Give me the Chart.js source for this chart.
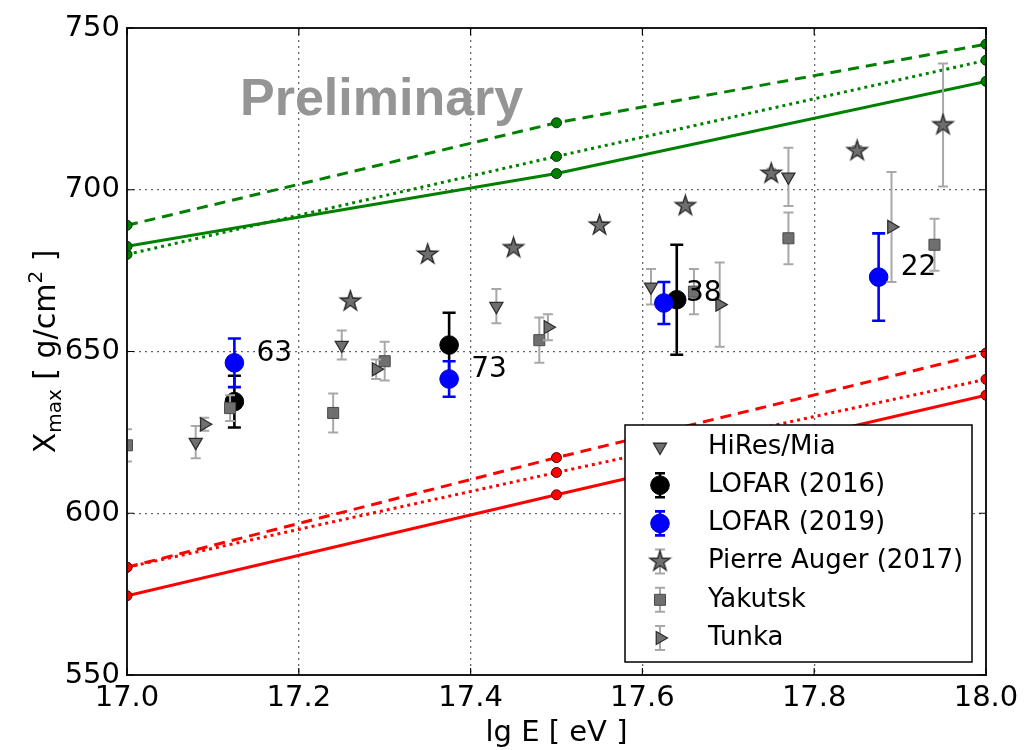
<!DOCTYPE html>
<html>
<head>
<meta charset="utf-8">
<script src="https://cdn.jsdelivr.net/npm/chart.js@4.4.1/dist/chart.umd.min.js"></script>
<style>
  html, body { margin: 0; padding: 0; background: #fff; }
  #wrap { width: 1033px; height: 750px; }
</style>
</head>
<body>
<div id="wrap"><canvas id="c" width="1033" height="750"></canvas></div>
<script>
// ---- axis ticks ----
const energyTicks = [17.0, 17.2, 17.4, 17.6, 17.8, 18.0];   // lg E [eV]
const xmaxTicks = [550, 600, 650, 700, 750];               // g/cm^2

// ---- measurements: energy, Xmax, uncertainty ----
const hiresE   = [17.08, 17.25, 17.43, 17.61, 17.77];
const hiresX   = [622, 652, 664, 670, 704];
const hiresErr = [5, 4.5, 5.3, 5.5, 9];

const lofar16E   = [17.125, 17.375, 17.64];
const lofar16X   = [634.5, 652, 666];
const lofar16Err = [8, 10, 17];

const lofar19E      = [17.125, 17.375, 17.625, 17.875];
const lofar19X      = [646.5, 641.5, 665, 673];
const lofar19Err    = [7.5, 5.5, 6.5, 13.5];
const lofar19Counts = ['63', '73', '38', '22'];

const augerE   = [17.26, 17.35, 17.45, 17.55, 17.65, 17.75, 17.85, 17.95];
const augerX   = [665.5, 680, 682, 689, 695, 705, 712, 720];
const augerErr = [1, 1, 1, 1, 1, 1.5, 1.5, 19];

const yakutskE   = [17.0, 17.12, 17.24, 17.30, 17.48, 17.66, 17.77, 17.94];
const yakutskX   = [621, 632.5, 631, 647, 653.5, 668.5, 685, 683];
const yakutskErr = [5, 4, 6, 6, 7, 7, 8, 8];

const tunkaE   = [17.09, 17.29, 17.49, 17.69, 17.89];
const tunkaX   = [627.5, 644.5, 657.5, 664.5, 688.5];
const tunkaErr = [2, 3, 4, 13, 17];

// ---- simulated expectations (proton / iron, three interaction models) ----
const modelE = [17.0, 17.5, 18.0];
const protonModelA = [682.5, 705, 733.5];
const protonModelB = [689, 720.7, 745];
const protonModelC = [680, 710.3, 740];
const ironModelA   = [574.5, 605.7, 636.5];
const ironModelB   = [583.3, 617.2, 649.5];
const ironModelC   = [583.3, 612.6, 641.4];

const pts = (xs, ys) => xs.map((x, i) => ({ x: x, y: ys[i] }));

// filled five-pointed star used as a point style
function makeStar(R, fill, stroke) {
  const s = Math.ceil(2 * R + 4);
  const cv = document.createElement('canvas');
  cv.width = s; cv.height = s;
  const c = cv.getContext('2d');
  c.translate(s / 2, s / 2);
  const r = R * 0.382;
  c.beginPath();
  for (let k = 0; k < 10; k++) {
    const rad = k % 2 === 0 ? R : r;
    const a = -Math.PI / 2 + k * Math.PI / 5;
    const px = Math.cos(a) * rad, py = Math.sin(a) * rad;
    if (k === 0) c.moveTo(px, py); else c.lineTo(px, py);
  }
  c.closePath();
  c.fillStyle = fill; c.fill();
  c.lineWidth = 1.4; c.strokeStyle = stroke; c.stroke();
  return cv;
}
const starStyle = makeStar(10.5, '#6f6f6f', '#2a2a2a');

const grayFill = '#6f6f6f', grayEdge = '#2e2e2e', grayBar = '#a8a8a8';

function modelLine(label, ys, color, edge, dash, order) {
  return {
    label: label, data: pts(modelE, ys), showLine: true,
    borderColor: color, borderWidth: 3, borderDash: dash, borderCapStyle: 'butt',
    pointRadius: 5, pointBackgroundColor: color, pointBorderColor: edge, pointBorderWidth: 1,
    fill: false, tension: 0, order: order
  };
}

const datasets = [
  modelLine('p A', protonModelA, '#008000', '#0b2a0b', [], 20),
  modelLine('p B', protonModelB, '#008000', '#0b2a0b', [11, 7], 21),
  modelLine('p C', protonModelC, '#008000', '#0b2a0b', [3, 4], 22),
  modelLine('Fe A', ironModelA, '#ff0000', '#4a0000', [], 23),
  modelLine('Fe B', ironModelB, '#ff0000', '#4a0000', [11, 7], 24),
  modelLine('Fe C', ironModelC, '#ff0000', '#4a0000', [3, 4], 25),
  { label: 'HiRes/Mia', data: pts(hiresE, hiresX), errors: hiresErr,
    errorColor: grayBar, errorWidth: 2, capHalf: 5,
    pointStyle: 'triangle', rotation: 180, pointRadius: 7.5,
    backgroundColor: grayFill, borderColor: grayEdge, borderWidth: 1.3, order: 9, legendBar: 0 },
  { label: 'LOFAR (2016)', data: pts(lofar16E, lofar16X), errors: lofar16Err,
    errorColor: '#000000', errorWidth: 2.6, capHalf: 6.5,
    pointStyle: 'circle', pointRadius: 9.3,
    backgroundColor: '#000000', borderColor: '#000000', borderWidth: 1, order: 8, legendBar: 12 },
  { label: 'LOFAR (2019)', data: pts(lofar19E, lofar19X), errors: lofar19Err,
    errorColor: '#0000ff', errorWidth: 2.6, capHalf: 6.5,
    pointStyle: 'circle', pointRadius: 9.3,
    backgroundColor: '#0000ff', borderColor: '#0000cc', borderWidth: 1, order: 7, legendBar: 12 },
  { label: 'Pierre Auger (2017)', data: pts(augerE, augerX), errors: augerErr,
    errorColor: grayBar, errorWidth: 2, capHalf: 5,
    pointStyle: starStyle, pointRadius: 10.5, order: 6, legendBar: 12 },
  { label: 'Yakutsk', data: pts(yakutskE, yakutskX), errors: yakutskErr,
    errorColor: grayBar, errorWidth: 2, capHalf: 5,
    pointStyle: 'rect', pointRadius: 7.8,
    backgroundColor: grayFill, borderColor: '#4a4a4a', borderWidth: 1, order: 5, legendBar: 12 },
  { label: 'Tunka', data: pts(tunkaE, tunkaX), errors: tunkaErr,
    errorColor: grayBar, errorWidth: 2, capHalf: 5,
    pointStyle: 'triangle', rotation: 90, pointRadius: 7.5,
    backgroundColor: grayFill, borderColor: grayEdge, borderWidth: 1.3, order: 4, legendBar: 12 }
];

const legendOrder = ['HiRes/Mia', 'LOFAR (2016)', 'LOFAR (2019)', 'Pierre Auger (2017)', 'Yakutsk', 'Tunka'];

// error bars, drawn just beneath each series' own markers
const errorBarPlugin = {
  id: 'errorBars',
  beforeDatasetDraw(chart, args) {
    const ds = chart.data.datasets[args.index];
    if (!ds.errors) return;
    const { ctx, chartArea: a, scales: { x, y } } = chart;
    ctx.save();
    ctx.beginPath(); ctx.rect(a.left, a.top, a.right - a.left, a.bottom - a.top); ctx.clip();
    ctx.strokeStyle = ds.errorColor; ctx.lineWidth = ds.errorWidth;
    ds.data.forEach((p, i) => {
      const px = x.getPixelForValue(p.x);
      const y1 = y.getPixelForValue(p.y - ds.errors[i]);
      const y2 = y.getPixelForValue(p.y + ds.errors[i]);
      ctx.beginPath();
      ctx.moveTo(px, y1); ctx.lineTo(px, y2);
      ctx.moveTo(px - ds.capHalf, y1); ctx.lineTo(px + ds.capHalf, y1);
      ctx.moveTo(px - ds.capHalf, y2); ctx.lineTo(px + ds.capHalf, y2);
      ctx.stroke();
    });
    ctx.restore();
  }
};

// frame, inward ticks, annotations, axis titles and legend
const decorPlugin = {
  id: 'decor',
  afterDatasetsDraw(chart) {
    const { ctx, chartArea: a, scales: { x, y } } = chart;
    ctx.save();
    // frame
    ctx.strokeStyle = '#1a1a1a'; ctx.lineWidth = 2;
    ctx.strokeRect(a.left, a.top, a.right - a.left, a.bottom - a.top);
    // inward major ticks
    ctx.lineWidth = 1.2; ctx.strokeStyle = '#000';
    ctx.beginPath();
    energyTicks.forEach(v => {
      const px = x.getPixelForValue(v);
      ctx.moveTo(px, a.bottom); ctx.lineTo(px, a.bottom - 7);
      ctx.moveTo(px, a.top); ctx.lineTo(px, a.top + 7);
    });
    xmaxTicks.forEach(v => {
      const py = y.getPixelForValue(v);
      ctx.moveTo(a.left, py); ctx.lineTo(a.left + 7, py);
      ctx.moveTo(a.right, py); ctx.lineTo(a.right - 7, py);
    });
    ctx.stroke();

    // event counts next to the LOFAR (2019) points
    ctx.fillStyle = '#000';
    ctx.font = '28px "DejaVu Sans"';
    ctx.textAlign = 'left'; ctx.textBaseline = 'middle';
    lofar19E.forEach((e, i) => {
      ctx.fillText(lofar19Counts[i], x.getPixelForValue(e) + 22, y.getPixelForValue(lofar19X[i]) - 9);
    });

    // watermark
    ctx.fillStyle = '#959595';
    ctx.font = 'bold 52px "Liberation Sans"';
    ctx.textBaseline = 'alphabetic';
    ctx.fillText('Preliminary', 240, 115);

    // x-axis title
    ctx.fillStyle = '#000';
    ctx.font = '29px "DejaVu Sans"';
    ctx.textAlign = 'center'; ctx.textBaseline = 'middle';
    ctx.fillText('lg E [ eV ]', (a.left + a.right) / 2, 733);

    // y-axis title with sub/superscript
    const segs = [
      { t: 'X', f: 30, dy: 0 },
      { t: 'max', f: 20, dy: 6 },
      { t: ' [ g/cm', f: 30, dy: 0 },
      { t: '2', f: 20, dy: -13 },
      { t: ' ]', f: 30, dy: 0 }
    ];
    ctx.translate(55, (a.top + a.bottom) / 2);
    ctx.rotate(-Math.PI / 2);
    ctx.textAlign = 'left'; ctx.textBaseline = 'alphabetic';
    let total = 0;
    segs.forEach(s => { ctx.font = s.f + 'px "DejaVu Sans"'; s.w = ctx.measureText(s.t).width; total += s.w; });
    let cx = -total / 2;
    segs.forEach(s => { ctx.font = s.f + 'px "DejaVu Sans"'; ctx.fillText(s.t, cx, s.dy); cx += s.w; });
    ctx.restore();

    // legend
    const bx = a.right - 361, by = a.bottom - 250, bw = 347, bh = 237;
    ctx.save();
    ctx.fillStyle = '#fff';
    ctx.fillRect(bx, by, bw, bh);
    ctx.strokeStyle = '#000'; ctx.lineWidth = 1.5;
    ctx.strokeRect(bx, by, bw, bh);
    legendOrder.forEach((name, i) => {
      const ds = chart.data.datasets.find(d => d.label === name);
      const cy = by + 22 + i * 38.2;
      const mx = bx + 35;
      if (ds.legendBar) {
        const h = ds.legendBar;
        ctx.strokeStyle = ds.errorColor; ctx.lineWidth = ds.errorWidth;
        ctx.beginPath();
        ctx.moveTo(mx, cy - h); ctx.lineTo(mx, cy + h);
        ctx.moveTo(mx - 5, cy - h); ctx.lineTo(mx + 5, cy - h);
        ctx.moveTo(mx - 5, cy + h); ctx.lineTo(mx + 5, cy + h);
        ctx.stroke();
      }
      ctx.fillStyle = ds.backgroundColor || '#000';
      ctx.strokeStyle = ds.borderColor || '#000';
      ctx.lineWidth = ds.borderWidth || 0;
      Chart.helpers.drawPoint(ctx, {
        pointStyle: ds.pointStyle, rotation: ds.rotation || 0,
        radius: ds.pointRadius, borderWidth: ds.borderWidth || 0
      }, mx, cy);
      ctx.fillStyle = '#000';
      ctx.font = '26px "DejaVu Sans"';
      ctx.textAlign = 'left'; ctx.textBaseline = 'middle';
      ctx.fillText(name, bx + 83, cy);
    });
    ctx.restore();
  }
};

const tickFont = { family: 'DejaVu Sans', size: 29 };

new Chart(document.getElementById('c'), {
  type: 'scatter',
  data: { datasets: datasets },
  options: {
    responsive: false,
    animation: false,
    events: [],
    layout: { padding: { left: 0, right: 47, top: 28, bottom: 0 } },
    plugins: { legend: { display: false }, tooltip: { enabled: false } },
    scales: {
      x: {
        type: 'linear', min: 17, max: 18,
        afterFit(s) { s.height = 75; },
        afterBuildTicks(s) { s.ticks = energyTicks.map(v => ({ value: v })); },
        ticks: { autoSkip: false, maxRotation: 0, padding: 6, color: '#000', font: tickFont,
                 callback: v => Number(v).toFixed(1) },
        grid: { color: 'rgba(0,0,0,0.6)', lineWidth: 1.3, drawTicks: false },
        border: { display: false, dash: [2, 4] }
      },
      y: {
        type: 'linear', min: 550, max: 750,
        afterFit(s) { s.width = 127; },
        afterBuildTicks(s) { s.ticks = xmaxTicks.map(v => ({ value: v })); },
        ticks: { padding: 7, color: '#000', font: tickFont, callback: v => String(v) },
        grid: { color: 'rgba(0,0,0,0.6)', lineWidth: 1.3, drawTicks: false },
        border: { display: false, dash: [2, 4] }
      }
    }
  },
  plugins: [errorBarPlugin, decorPlugin]
});
</script>
</body>
</html>
